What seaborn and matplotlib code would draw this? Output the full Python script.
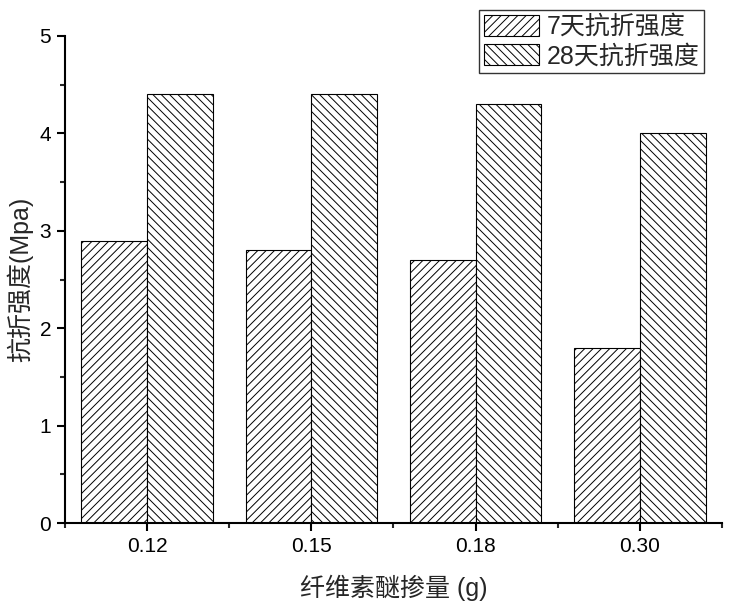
import pandas as pd
import matplotlib
matplotlib.use('Agg')
import matplotlib.pyplot as plt
import seaborn as sns
from matplotlib.ticker import MultipleLocator, FixedLocator

# Datos
dosis = ['0.12', '0.15', '0.18', '0.30']
series = ['7天抗折强度', '28天抗折强度']
resistencia_7d = [2.9, 2.8, 2.7, 1.8]
resistencia_28d = [4.4, 4.4, 4.3, 4.0]

df = pd.DataFrame({
    'dosis': dosis * 2,
    'serie': [series[0]] * len(dosis) + [series[1]] * len(dosis),
    'valor': resistencia_7d + resistencia_28d,
})

sns.set_style('ticks')
plt.rcParams['font.family'] = ['Liberation Sans', 'Noto Sans CJK SC']
plt.rcParams['hatch.linewidth'] = 0.7
plt.rcParams['axes.unicode_minus'] = False

fig = plt.figure(figsize=(7.30, 6.07), dpi=100)
ax = fig.add_axes([0.089, 0.138, 0.900, 0.803])

sns.barplot(data=df, x='dosis', y='valor', hue='serie', order=dosis,
            hue_order=series, width=0.8, palette=['white', 'white'],
            edgecolor='black', linewidth=0.8, legend=False, ax=ax)

hatches = ['////', '\\\\\\\\']
for cont, h in zip(ax.containers, hatches):
    for bar in cont:
        bar.set_hatch(h)
        bar.set_edgecolor('black')
        bar.set_facecolor('white')

ax.set_xlim(-0.5, 3.5)
ax.set_ylim(0, 5)
ax.yaxis.set_major_locator(MultipleLocator(1))
ax.yaxis.set_minor_locator(MultipleLocator(0.5))
ax.xaxis.set_minor_locator(FixedLocator([-0.5, 0.5, 1.5, 2.5, 3.5]))

sns.despine(ax=ax)
for s in ['left', 'bottom']:
    ax.spines[s].set_linewidth(1.5)
    ax.spines[s].set_color('black')

ax.tick_params(which='major', direction='out', length=6, width=1.5, labelsize=15,
               colors='black', pad=4)
ax.tick_params(which='minor', direction='out', length=3.5, width=1.5)

ax.set_xlabel('纤维素醚掺量 (g)', fontsize=18, labelpad=13)
ax.set_ylabel('抗折强度(Mpa)', fontsize=18, labelpad=4)

handles = [ax.containers[0][0], ax.containers[1][0]]
leg = ax.legend(handles, series, loc='upper right', bbox_to_anchor=(0.973, 1.053),
                fontsize=18, frameon=True, fancybox=False, edgecolor='black',
                handlelength=2.2, handleheight=0.92, labelspacing=0.2,
                handletextpad=0.3, borderpad=0.2, borderaxespad=0)
leg.get_frame().set_linewidth(1.0)

plt.savefig('out.png', dpi=100)
